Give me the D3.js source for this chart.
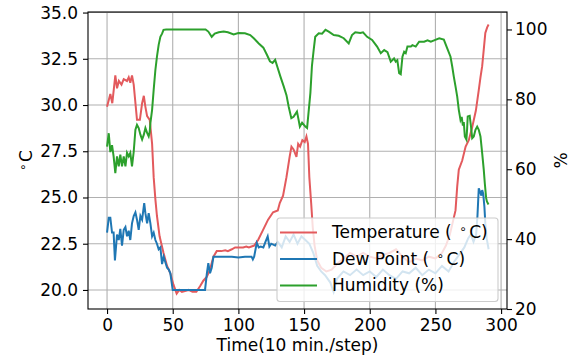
<!DOCTYPE html>
<html>
<head>
<meta charset="utf-8">
<script src="https://cdn.jsdelivr.net/npm/d3@7"></script>
<style>
    body { margin: 0; background: #fff; }
    text { font-family: "DejaVu Sans", sans-serif; }
</style>
</head>
<body>
<div class="C"></div>
<script>
// time step (10 min./step) and readings
var tempT = [0, 2.5, 4, 6.3, 7.6, 9, 11, 12.7, 15.2, 16.5, 17.7, 19, 20.3, 22.8, 25, 26.7, 28, 29.2, 30.5, 32.5,
    34.3, 35.5, 36.8, 38, 40, 43, 45.7, 48.2, 50.5, 53, 55, 57, 60, 62, 65, 68, 70.8, 73.3, 75.9, 78.4,
    81, 83.5, 87, 90, 92, 95, 97.5, 100, 103.6, 106, 108, 112, 115, 118.8, 122.6, 126.4, 130, 131.5, 134, 136.6,
    139, 140.4, 142, 144.2, 145.5, 147, 148.7, 150.5, 151.8, 153, 154, 155.4, 156.6, 158, 160, 163, 167, 171, 175, 180,
    185, 190, 195, 200, 205, 210, 215, 220, 225, 230, 235, 240, 245, 250, 255, 258, 261, 263, 265.3, 266.6,
    267.8, 270.4, 273, 275.4, 278, 280.8, 283, 284.3, 285.6, 286.8, 288, 289.4, 290.5];
var temp = [29.9, 30.6, 30.1, 31.6, 30.9, 31.3, 31.1, 31.4, 31.3, 31.5, 31.2, 31.6, 31.1, 29.2, 29.2, 30.1, 30.5, 29.9, 29.4, 29.2,
    27.9, 26.1, 24.9, 24.0, 22.9, 22.0, 21.3, 20.9, 20.3, 19.8, 20.0, 19.9, 19.95, 20.0, 19.9, 19.9, 20.2, 20.5, 20.7, 21.1,
    21.8, 22.1, 22.1, 22.15, 22.1, 22.2, 22.3, 22.3, 22.3, 22.35, 22.3, 22.4, 22.7, 23.25, 23.8, 24.2, 24.3, 24.7, 25.1, 26.1,
    27.2, 27.75, 27.6, 27.2, 27.9, 27.75, 28.1, 28.0, 28.3, 27.9, 26.1, 24.7, 23.4, 22.4, 21.6, 21.2, 21.0, 21.1, 21.4, 21.7,
    22.0, 21.8, 22.0, 21.8, 21.7, 21.9, 22.0, 22.2, 21.8, 21.5, 21.7, 21.6, 21.8, 21.7, 22.0, 22.4, 23.0, 23.6, 24.3, 25.6,
    26.5, 27.0, 27.75, 28.1, 28.8, 29.7, 30.8, 31.5, 32.1, 33.0, 33.9, 34.2, 34.35];

var dewT = [0, 1.3, 2.5, 3.8, 5, 6, 7.6, 8.9, 10.1, 11.4, 12.7, 14, 15.2, 16.5, 17.7, 19, 20.3, 21.6, 22.8, 24.1,
    25.4, 26.7, 28.3, 29.2, 30.5, 31.7, 33, 34.3, 35.5, 36.8, 38, 39.3, 40.6, 41.9, 43.1, 44.4, 45.7, 47, 48.2, 50,
    74.6, 76, 77.1, 78.4, 79.7, 81, 95, 100, 105, 110, 111, 112, 114, 115.5, 117, 119, 120.6, 122.3, 123.6, 125,
    128, 130, 133, 136, 139, 142, 145, 148, 151, 154, 157, 160, 163, 166, 170, 172.5, 175, 180, 185, 190,
    195, 200, 205, 210, 215, 220, 225, 230, 235, 240, 245, 250, 255, 260, 264, 268, 272, 275, 277, 279,
    281, 282, 283, 284, 285, 285.6, 286.4, 287.3, 288, 289, 290.5];
var dew = [23.1, 23.9, 23.9, 23.1, 23.1, 21.6, 23.0, 22.7, 23.3, 22.4, 23.25, 23.4, 22.9, 23.2, 22.7, 23.6, 24.0, 24.2, 23.8, 23.25,
    24.0, 23.8, 24.7, 24.15, 23.6, 24.15, 23.6, 22.9, 23.1, 22.7, 22.5, 22.2, 22.3, 21.4, 21.8, 21.5, 21.2, 21.1, 20.9, 20.0,
    20.0, 20.9, 21.45, 20.9, 21.2, 21.8, 21.8, 21.75, 21.8, 21.8, 21.65, 21.8, 22.55, 22.3, 22.35, 22.3, 22.6, 22.9, 22.35, 22.5,
    22.4, 22.6, 22.3, 22.9, 22.6, 23.0, 22.5, 22.9, 22.7, 22.5, 22.0, 21.3, 21.0, 20.8, 20.4, 19.9, 20.6, 21.0, 20.8, 21.1,
    20.8, 21.0, 20.7, 21.1, 20.8, 20.6, 21.0, 20.9, 21.2, 20.8, 21.1, 20.9, 21.3, 21.0, 21.5, 21.9, 22.3, 22.8, 23.0, 22.6,
    23.0, 24.0, 25.5, 25.3, 25.1, 25.4, 25.2, 24.5, 23.6, 22.8, 22.2];

var humT = [0, 1.3, 2.5, 3.8, 5, 6.3, 7.6, 8.9, 10.1, 11.4, 12.7, 14, 15.2, 16.5, 17.7, 19, 20.3, 21.6, 22.8, 24.1,
    25.4, 26.7, 28, 29.2, 30.5, 31.7, 32.5, 33, 34.3, 35.5, 36.8, 38, 39.3, 40.6, 41.9, 43, 45, 75, 77.1, 79.7,
    82, 85, 88.8, 92, 96.4, 100, 105, 109, 111.7, 115.5, 119, 121.8, 124, 126, 128, 130, 132, 134.5, 136.6, 138.3,
    140.3, 142, 144.6, 145.8, 146.8, 148.5, 151, 152.3, 154.8, 156, 157.3, 158.5, 161.2, 163.7, 166.3, 168.8, 172.6, 176.4, 180.2, 184,
    186.5, 189, 192.8, 194.9, 198, 201.8, 205.6, 208.4, 211, 213.5, 216, 218.5, 219.8, 221, 222.4, 223.6, 224.9, 226.2, 227.4, 228.7,
    231.3, 232.5, 235, 237.6, 241.4, 244, 246.5, 249, 252.9, 256.4, 259, 261.5, 262.8, 264, 265.3, 266.6, 267.8, 269.1, 270, 270.9,
    271.6, 272.4, 273.6, 274.1, 274.6, 276.1, 277.1, 278, 279.2, 280.5, 281.8, 283, 284.3, 285.6, 286.8, 287.6, 288.6, 289.2, 290.4];
var hum = [66.5, 70.3, 64.9, 66.9, 63.7, 58.9, 63.7, 60.8, 64.2, 60.8, 63.7, 60.8, 64.7, 63.7, 64.7, 60.8, 65.0, 71.3, 72.7, 71.8,
    69.9, 68.5, 69.9, 71.8, 70.4, 69.4, 70.8, 73.2, 77, 82.7, 88.4, 92.2, 95.6, 97.9, 98.8, 99.9, 100, 100, 99.4, 97.9,
    98.8, 99.2, 99.4, 99.2, 98.6, 99.0, 98.9, 98.4, 97.5, 96.0, 94.8, 92.7, 90.9, 90.4, 91.3, 88.9, 86.5, 83.7, 81.2, 77.9,
    74.6, 75.0, 76.5, 74.2, 72.2, 73.3, 72.2, 71.8, 81.8, 89.6, 94.1, 97.9, 98.9, 98.8, 99.9, 99.4, 98.4, 98.2, 97.5, 96.0,
    98.4, 99.2, 99.0, 99.2, 97.9, 97.0, 95.1, 93.2, 94.1, 93.5, 90.8, 91.7, 90.8, 91.2, 87.5, 87.2, 92.2, 93.6, 93.2, 95.1,
    95.1, 95.5, 95.1, 96.5, 96.5, 96.9, 96.5, 96.9, 97.5, 97.1, 94.6, 92.2, 89.4, 86.5, 83.7, 80.8, 77.0, 74.1, 75.0, 72.5,
    73.5, 69.4, 68.5, 71.3, 75.1, 75.3, 72.2, 68.9, 69.4, 71.3, 72.2, 71.3, 69.4, 64.6, 59.9, 56.0, 51.8, 50.8, 49.9];

var xTicks = [0, 50, 100, 150, 200, 250, 300];
var tempTicks = [20, 22.5, 25, 27.5, 30, 32.5, 35];
var humTicks = [20, 40, 60, 80, 100];
var seriesNames = ['Temperature', 'Dew Point', 'Humidity'];
var seriesColors = ['#e35a5d', '#1f77b4', '#2ca02c'];

var width = 576, height = 358;
var mLeft = 88, mRight = 507, mTop = 12, mBottom = 309;

var svg = d3.select('.C').append('svg').attr('width', width).attr('height', height)
    .style('font-family', '"DejaVu Sans", sans-serif');

var x = d3.scaleLinear().domain([-14.5, 304.5]).range([mLeft, mRight]);
var yT = d3.scaleLinear().domain([18.97, 35.03]).range([mBottom, mTop]);
var yH = d3.scaleLinear().domain([20, 105]).range([mBottom, mTop]);

// grid
svg.append('g').selectAll('line').data(xTicks).enter().append('line')
    .attr('x1', function (d) { return x(d) }).attr('x2', function (d) { return x(d) })
    .attr('y1', mTop).attr('y2', mBottom)
    .style('stroke', '#b0b0b0').style('stroke-width', 1.1);
svg.append('g').selectAll('line').data(tempTicks).enter().append('line')
    .attr('y1', function (d) { return yT(d) }).attr('y2', function (d) { return yT(d) })
    .attr('x1', mLeft).attr('x2', mRight)
    .style('stroke', '#b0b0b0').style('stroke-width', 1.1);

function pts(ts, vs) {
    return ts.map(function (t, i) { return [t, vs[i]] });
}
var lineT = d3.line().x(function (d) { return x(d[0]) }).y(function (d) { return yT(d[1]) });
var lineH = d3.line().x(function (d) { return x(d[0]) }).y(function (d) { return yH(d[1]) });

svg.append('path').datum(pts(tempT, temp)).attr('d', lineT)
    .style('fill', 'none').style('stroke', seriesColors[0]).style('stroke-width', 2);
svg.append('path').datum(pts(dewT, dew)).attr('d', lineT)
    .style('fill', 'none').style('stroke', seriesColors[1]).style('stroke-width', 2);
svg.append('path').datum(pts(humT, hum)).attr('d', lineH)
    .style('fill', 'none').style('stroke', seriesColors[2]).style('stroke-width', 2);

// axes
var gx = svg.append('g').attr('transform', 'translate(0,' + mBottom + ')')
    .call(d3.axisBottom(x).tickValues(xTicks).tickSize(5).tickPadding(5));
var gl = svg.append('g').attr('transform', 'translate(' + mLeft + ',0)')
    .call(d3.axisLeft(yT).tickValues(tempTicks).tickFormat(d3.format('.1f')).tickSize(5).tickPadding(5));
var gr = svg.append('g').attr('transform', 'translate(' + mRight + ',0)')
    .call(d3.axisRight(yH).tickValues(humTicks).tickSize(5).tickPadding(3));
[gx, gl, gr].forEach(function (g) {
    g.select('.domain').remove();
    g.selectAll('text').style('font-size', '17px').style('fill', '#000')
        .style('font-family', '"DejaVu Sans", sans-serif');
    g.selectAll('line').style('stroke', '#000').style('stroke-width', 1.1);
});

svg.append('rect').attr('x', mLeft).attr('y', mTop).attr('width', mRight - mLeft).attr('height', mBottom - mTop)
    .style('fill', 'none').style('stroke', '#000').style('stroke-width', 1.1);

// labels
svg.append('text').attr('x', (mLeft + mRight) / 2).attr('y', 350.5).attr('text-anchor', 'middle')
    .style('font-size', '17px').text('Time(10 min./step)');

var yl = svg.append('text').attr('transform', 'translate(31.5,' + ((mTop + mBottom) / 2) + ') rotate(-90)')
    .attr('text-anchor', 'middle').style('font-size', '17px');
yl.append('tspan').attr('baseline-shift', '45%').style('font-size', '12px').text('\u2218');
yl.append('tspan').attr('dx', 1.5).text('C');

svg.append('text').attr('transform', 'translate(567,' + ((mTop + mBottom) / 2) + ') rotate(-90)')
    .attr('text-anchor', 'middle').style('font-size', '17px').text('%');

// legend
var leg = svg.append('g').attr('transform', 'translate(277,218)');
leg.append('rect').attr('width', 221).attr('height', 83.5).attr('rx', 3).attr('ry', 3)
    .style('fill', '#fff').style('fill-opacity', 0.8).style('stroke', '#cccccc').style('stroke-width', 1.1);
var legItems = leg.selectAll('.legitem').data(seriesNames).enter().append('g')
    .attr('class', 'legitem')
    .attr('transform', function (d, i) { return 'translate(0,' + (14.5 + i * 26.5) + ')' });
legItems.append('line').attr('x1', 3).attr('x2', 40).attr('y1', 0).attr('y2', 0)
    .style('stroke', function (d, i) { return seriesColors[i] }).style('stroke-width', 2);
var legText = legItems.append('text').attr('x', 55).attr('y', 5.7).style('font-size', '17px');
legText.each(function (d) {
    var t = d3.select(this);
    if (d === 'Humidity') {
        t.text('Humidity (%)');
    } else {
        t.append('tspan').text(d + ' ( ');
        t.append('tspan').attr('dx', 2).attr('baseline-shift', '45%').style('font-size', '12px').text('\u2218');
        t.append('tspan').attr('dx', 2.5).text('C)');
    }
});
</script>
</body>
</html>
